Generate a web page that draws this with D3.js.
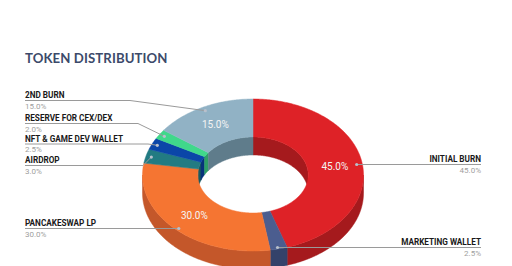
<!DOCTYPE html>
<html><head><meta charset="utf-8">
<script src="https://cdn.jsdelivr.net/npm/d3@7"></script>
<style>
html,body{margin:0;padding:0;background:#fff;}
svg{display:block;}
</style></head>
<body>
<svg id="c" width="512" height="266"></svg>
<script>
// ---- data ----
const categories = ["INITIAL BURN","MARKETING WALLET","PANCAKESWAP LP","AIRDROP","NFT & GAME DEV WALLET","RESERVE FOR CEX/DEX","2ND BURN"];
const values = [45, 2.5, 30, 3, 2.5, 2, 15];
const topColors  = ["#de2227","#4b5d8f","#f57532","#227b82","#0b46a8","#40d88b","#91b2c5"];
const wallColors = ["#a51a1d","#34426a","#c4572a","#185a60","#07327a","#2ea066","#5f7c8b"];
const title = "TOKEN DISTRIBUTION";

// ---- layout ----
const W = 512, H = 266;
const cx = 253, cy = 175, rx = 110.5, ry = 76, innerFrac = 0.5, depth = 18;
// label layout: side, baseline y, elbow x (for left labels)
const labelLayout = [
  {side:"R", y:162},
  {side:"R", y:245},
  {side:"L", y:226, elbow:null},
  {side:"L", y:163, elbow:143},
  {side:"L", y:141.5, elbow:148},
  {side:"L", y:121, elbow:138},
  {side:"L", y:98, elbow:130}
];

const svg = d3.select("#c");

svg.append("text").attr("x",25).attr("y",63)
  .attr("font-family","Lato, 'Open Sans', sans-serif").attr("font-weight",700)
  .attr("font-size",13.2).attr("letter-spacing",0.1).attr("fill","#3c4a6a").text(title);

const pie = d3.pie().sort(null).startAngle(0).endAngle(2*Math.PI);
const arcs = pie(values);

function pt(t, k, dy=0){ return [cx + rx*k*Math.sin(t), cy - ry*k*Math.cos(t) + dy]; }
function arcPts(a, b, k, dy=0){
  const n = Math.max(2, Math.ceil((b-a)/0.01));
  const out = [];
  for(let i=0;i<=n;i++){ out.push(pt(a+(b-a)*i/n, k, dy)); }
  return out;
}
const line = d3.line();
const PI = Math.PI;

const gInner = svg.append("g"), gOuter = svg.append("g"), gTop = svg.append("g");

arcs.forEach((d,i)=>{
  const a = d.startAngle, b = d.endAngle;
  // inner walls (far side): [0, PI/2] and [3PI/2, 2PI]
  [[0, PI/2],[3*PI/2, 2*PI]].forEach(([lo,hi])=>{
    const s = Math.max(a,lo), e = Math.min(b,hi);
    if(e>s){
      const p = arcPts(s,e,innerFrac).concat(arcPts(s,e,innerFrac,depth).reverse());
      gInner.append("path").attr("d", line(p)+"Z").attr("fill", wallColors[i]).attr("stroke",wallColors[i]).attr("stroke-width",0.5);
    }
  });
  // outer walls (near side): [PI/2, 3PI/2]
  const s = Math.max(a,PI/2), e = Math.min(b,3*PI/2);
  if(e>s){
    const p = arcPts(s,e,1).concat(arcPts(s,e,1,depth).reverse());
    gOuter.append("path").attr("d", line(p)+"Z").attr("fill", wallColors[i]).attr("stroke",wallColors[i]).attr("stroke-width",0.5);
  }
  // top face
  const p = arcPts(a,b,1).concat(arcPts(a,b,innerFrac).reverse());
  gTop.append("path").attr("d", line(p)+"Z").attr("fill", topColors[i]).attr("stroke",topColors[i]).attr("stroke-width",0.5);
});

// in-slice percentage labels (only for big slices)
const fmt = v => v.toFixed(1)+"%";
arcs.forEach((d,i)=>{
  if(values[i] < 10) return;
  const m = (d.startAngle+d.endAngle)/2;
  const [x,y] = pt(m, 0.75);
  svg.append("text").attr("x",x).attr("y",y+3.5).attr("text-anchor","middle")
    .attr("font-family","Roboto, sans-serif").attr("font-size",10).attr("fill","#f4f4f4").text(fmt(values[i]));
});

// leader lines and labels
const gl = svg.append("g");
arcs.forEach((d,i)=>{
  const L = labelLayout[i];
  const m = (d.startAngle+d.endAngle)/2;
  const [dx,dy] = pt(m, 0.95);
  const ly = L.y + 2.5;
  let pts;
  if(L.side==="L"){
    pts = L.elbow==null ? [[25,ly],[dx,ly]] : [[25,ly],[L.elbow,ly],[dx,dy]];
  } else {
    pts = [[dx,ly],[481,ly]];
  }
  gl.append("path").attr("d", line(pts)).attr("fill","none").attr("stroke","#9a9a9a").attr("stroke-width",1);
  const dot = pts[L.side==="L"?pts.length-1:0];
  gl.append("circle").attr("cx", dot[0]).attr("cy", dot[1]).attr("r",1.6).attr("fill","#b8c0cc");
  const tx = L.side==="L" ? 25 : 481;
  const anchor = L.side==="L" ? "start" : "end";
  gl.append("text").attr("x",tx).attr("y",L.y).attr("text-anchor",anchor)
    .attr("font-family","Roboto, sans-serif").attr("font-weight",700).attr("font-size",8.2).attr("fill","#1a1a1a").text(categories[i]);
  gl.append("text").attr("x",tx).attr("y",L.y+10.5).attr("text-anchor",anchor)
    .attr("font-family","Roboto, sans-serif").attr("font-size",8).attr("fill","#a0a0a0").text(fmt(values[i]));
});
</script>
</body></html>
